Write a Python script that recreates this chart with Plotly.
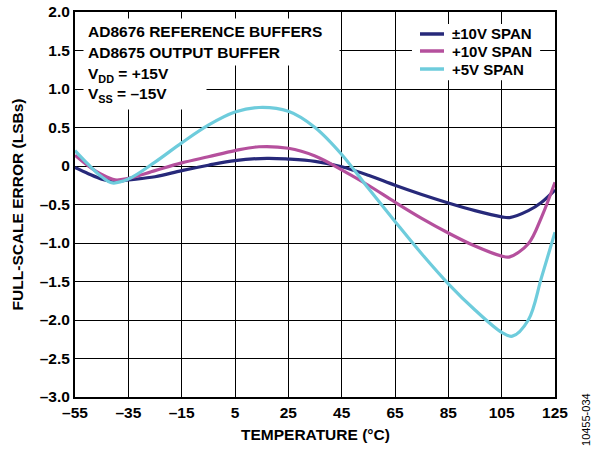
import plotly.graph_objects as go

# Temperature (°C) sample points and full-scale error (LSBs) per span
temp_pm10 = [-55, -50, -45, -40, -35, -25, -15, -5, 5, 17, 25, 35, 45, 55, 65, 75, 85, 95, 105, 108, 115, 120, 125]
err_pm10 = [-0.02, -0.1, -0.17, -0.2, -0.18, -0.14, -0.06, 0.01, 0.07, 0.1, 0.09, 0.06, -0.01, -0.12, -0.25, -0.37, -0.48, -0.58, -0.66, -0.67, -0.58, -0.47, -0.31]

temp_p10 = [-55, -50, -45, -40, -35, -25, -15, -5, 5, 14, 25, 35, 45, 55, 65, 75, 85, 95, 105, 108, 115, 120, 125]
err_p10 = [0.14, 0.0, -0.11, -0.18, -0.16, -0.06, 0.04, 0.12, 0.2, 0.25, 0.23, 0.13, -0.05, -0.25, -0.47, -0.68, -0.87, -1.04, -1.17, -1.18, -1.01, -0.66, -0.21]

temp_p5 = [-55, -50, -45, -41, -35, -25, -15, -5, 5, 14, 25, 35, 45, 55, 65, 75, 85, 95, 105, 109, 115, 120, 125]
err_p5 = [0.2, 0.02, -0.14, -0.22, -0.17, 0.05, 0.3, 0.53, 0.7, 0.76, 0.71, 0.5, 0.15, -0.29, -0.72, -1.14, -1.53, -1.87, -2.16, -2.21, -2.0, -1.44, -0.86]

series_names = ["±10V SPAN", "+10V SPAN", "+5V SPAN"]
series_colors = ["#27297A", "#B5509D", "#6ECCDC"]

x_ticks = [-55, -35, -15, 5, 25, 45, 65, 85, 105, 125]
x_ticktext = ["–55", "–35", "–15", "5", "25", "45", "65", "85", "105", "125"]
y_ticks = [2.0, 1.5, 1.0, 0.5, 0, -0.5, -1.0, -1.5, -2.0, -2.5, -3.0]
y_ticktext = ["2.0", "1.5", "1.0", "0.5", "0", "–0.5", "–1.0", "–1.5", "–2.0", "–2.5", "–3.0"]

FONT = "Liberation Sans, Arial, sans-serif"
FS = 15.5

fig = go.Figure()
for xs, ys, name, col in zip([temp_pm10, temp_p10, temp_p5], [err_pm10, err_p10, err_p5],
                             series_names, series_colors):
    fig.add_trace(go.Scatter(x=xs, y=ys, mode="lines", name=name, showlegend=False,
                             line=dict(color=col, width=3.2, shape="spline", smoothing=1.0)))

fig.update_layout(
    width=603, height=450,
    margin=dict(l=75, r=48, t=12, b=53, autoexpand=False),
    paper_bgcolor="white", plot_bgcolor="white",
    font=dict(family=FONT, size=FS, color="black"),
    showlegend=False,
    xaxis=dict(
        range=[-55, 125], tickvals=x_ticks, ticktext=["<b>" + t + "</b>" for t in x_ticktext],
        showgrid=True, gridcolor="black", gridwidth=1,
        showline=True, linecolor="black", linewidth=2, mirror=True,
        ticks="", zeroline=False, automargin=False, ticklabelstandoff=0,
        tickfont=dict(family=FONT, size=FS, color="black"),
    ),
    yaxis=dict(
        range=[-3.0, 2.0], tickvals=y_ticks, ticktext=["<b>" + t + "</b>" for t in y_ticktext],
        showgrid=True, gridcolor="black", gridwidth=1,
        showline=True, linecolor="black", linewidth=2, mirror=True,
        ticks="", zeroline=False, automargin=False, ticklabelstandoff=0,
        tickfont=dict(family=FONT, size=FS, color="black"),
    ),
)

# legend (drawn manually for exact spacing)
fig.add_shape(type="rect", xref="paper", yref="paper", x0=0.702, x1=0.969, y0=0.823, y1=0.969,
              fillcolor="white", line=dict(width=0), layer="above")
leg_y = [0.9429, 0.8987, 0.8519]
for yy, name, col in zip(leg_y, series_names, series_colors):
    fig.add_shape(type="line", xref="paper", yref="paper", x0=0.71875, x1=0.76875, y0=yy, y1=yy,
                  line=dict(color=col, width=3.5), layer="above")
    fig.add_annotation(xref="paper", yref="paper", x=0.78125, y=yy, xanchor="left", yanchor="middle",
                       text="<b>" + name + "</b>", showarrow=False,
                       font=dict(family=FONT, size=15, color="black"))

# axis titles
fig.add_annotation(
    xref="paper", yref="paper", x=0.5, y=-0.0987, xanchor="center", yanchor="middle",
    text="<b>TEMPERATURE (°C)</b>", showarrow=False,
    font=dict(family=FONT, size=FS, color="black"),
)
fig.add_annotation(
    xref="paper", yref="paper", x=-0.119, y=0.5, xanchor="center", yanchor="middle",
    text="<b>FULL-SCALE ERROR (LSBs)</b>", textangle=-90, showarrow=False,
    font=dict(family=FONT, size=FS, color="black"),
)

# condition notes
fig.add_annotation(
    xref="paper", yref="paper", x=0.016, y=0.9844, xanchor="left", yanchor="top",
    text="<b>AD8676 REFERENCE BUFFERS<br>AD8675 OUTPUT BUFFER</b>",
    showarrow=False, align="left", bgcolor="white", borderpad=4, width=247, height=38,
    font=dict(family=FONT, size=FS, color="black"),
)
fig.add_annotation(
    xref="paper", yref="paper", x=0.016, y=0.875, xanchor="left", yanchor="top",
    text="<b>V<sub>DD</sub> = +15V<br>V<sub>SS</sub> = –15V</b>",
    showarrow=False, align="left", bgcolor="white", borderpad=4, width=114, height=40,
    font=dict(family=FONT, size=FS, color="black"),
)
fig.add_annotation(
    xref="paper", yref="paper", x=1.0646, y=-0.0597, xanchor="center", yanchor="middle",
    text="10455-034", textangle=-90, showarrow=False,
    font=dict(family=FONT, size=11, color="black"),
)

fig.write_html("out.html", config={"displayModeBar": False},
               post_script="document.body.style.margin='0px';")
